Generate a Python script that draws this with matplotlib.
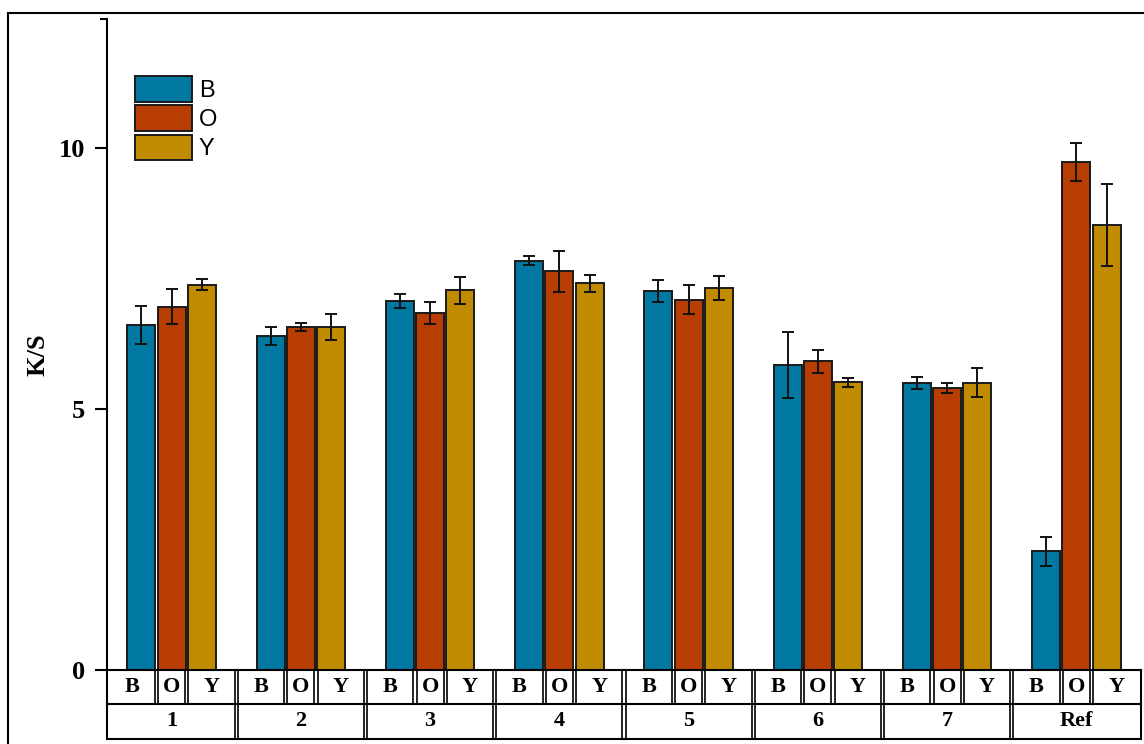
import numpy as np
import matplotlib
matplotlib.use("Agg")
import matplotlib.pyplot as plt
from matplotlib.patches import Rectangle
from matplotlib.ticker import FixedLocator

# Data
groups = ["1", "2", "3", "4", "5", "6", "7", "Ref"]
series = ["B", "O", "Y"]
b_vals = [6.61, 6.40, 7.07, 7.84, 7.26, 5.84, 5.50, 2.27]
o_vals = [6.96, 6.57, 6.83, 7.64, 7.09, 5.91, 5.40, 9.73]
y_vals = [7.38, 6.57, 7.27, 7.41, 7.31, 5.51, 5.50, 8.52]
b_err = [0.37, 0.17, 0.14, 0.09, 0.22, 0.63, 0.11, 0.27]
o_err = [0.33, 0.07, 0.21, 0.39, 0.28, 0.22, 0.09, 0.36]
y_err = [0.11, 0.24, 0.25, 0.16, 0.23, 0.08, 0.28, 0.78]

colors = ["#0078A2", "#B83D02", "#C18B00"]
SERIF = "Liberation Serif"
SANS = "Liberation Sans"

W, H = 1144, 744
fig = plt.figure(figsize=(W / 100, H / 100), dpi=100)

# main axes: left spine at x=107, y=0 at 670 px, top at 19 px
ax = fig.add_axes([107 / W, (H - 670) / H, (1141 - 107) / W, (670 - 19) / H])

x = np.arange(len(groups))
step = 0.234
width = 0.217
vals = [b_vals, o_vals, y_vals]
errs = [b_err, o_err, y_err]
handles = []
for i, (v, e, c, name) in enumerate(zip(vals, errs, colors, series)):
    bars = ax.bar(x + (i - 1) * step, v, width=width, color=c,
                  edgecolor="#1a1a1a", linewidth=1.4, label=name, zorder=2)
    ax.errorbar(x + (i - 1) * step, v, yerr=e, fmt="none", ecolor="#111111",
                elinewidth=1.4, capsize=4.5, capthick=1.4, zorder=3)
    handles.append(bars)

ymax = 12.47
ax.set_xlim(-0.5, len(groups) - 0.5)
ax.set_ylim(0, ymax)
ax.set_yticks([0, 5, 10])
ax.yaxis.set_minor_locator(FixedLocator([ymax]))
ax.tick_params(axis="y", which="major", length=8.5, width=1.5, pad=7,
               labelsize=19)
ax.tick_params(axis="y", which="minor", length=5, width=1.5)
for lab in ax.get_yticklabels():
    lab.set_fontfamily(SERIF)
    lab.set_fontweight("bold")
ax.set_xticks([])
for s in ["top", "right"]:
    ax.spines[s].set_visible(False)
ax.spines["left"].set_linewidth(1.5)
ax.spines["bottom"].set_linewidth(1.5)

fig.text(38 / W, 1 - 355 / H, "K/S", rotation=90, ha="center", va="center",
         fontsize=19, fontweight="bold", fontfamily=SERIF)

ax.legend(handles=handles, labels=series, loc="upper left",
          bbox_to_anchor=(135 / W, 1 - 76 / H), bbox_transform=fig.transFigure,
          frameon=False, borderpad=0, borderaxespad=0,
          prop={"family": SANS, "size": 17},
          handlelength=2.41, handleheight=1.3, handletextpad=0.3,
          labelspacing=0.15)

# category table under the axis
tab = fig.add_axes([107 / W, (H - 739) / H, (1141 - 107) / W, (739 - 670) / H])
tab.set_xlim(-0.5, len(groups) - 0.5)
tab.set_ylim(0, 1)
tab.axis("off")
sep = 35 / 69
lw = 1.5
tab.plot([-0.5, len(groups) - 0.5], [sep, sep], color="black", lw=lw, clip_on=False)
tab.plot([-0.5, len(groups) - 0.5], [0, 0], color="black", lw=lw, clip_on=False)
tab.plot([-0.5, -0.5], [0, 1], color="black", lw=lw, clip_on=False)
tab.plot([len(groups) - 0.5] * 2, [0, 1], color="black", lw=lw, clip_on=False)
dx = 1.6 / 129.25
for g in range(len(groups)):
    if g > 0:
        for off in (-dx, dx):
            tab.plot([g - 0.5 + off] * 2, [0, 1], color="black", lw=1.2, clip_on=False)
    d1 = g - step / 2
    d2 = g + step / 2
    for d in (d1, d2):
        for off in (-dx, dx):
            tab.plot([d + off] * 2, [sep, 1], color="black", lw=1.2, clip_on=False)
    centers = [(g - 0.5 + d1) / 2, g, (d2 + g + 0.5) / 2]
    for cx, name in zip(centers, series):
        tab.text(cx, (1 + sep) / 2, name, ha="center", va="center",
                 fontsize=16, fontweight="bold", fontfamily=SERIF)
    tab.text(g, sep / 2, groups[g], ha="center", va="center",
             fontsize=16, fontweight="bold", fontfamily=SERIF)

# outer frame of the figure
fig.patches.append(Rectangle((8 / W, -0.2), 1.5, 1 - 12.5 / H + 0.2,
                             transform=fig.transFigure, fill=False,
                             edgecolor="black", linewidth=1.5))

fig.savefig("out.png", dpi=100)
